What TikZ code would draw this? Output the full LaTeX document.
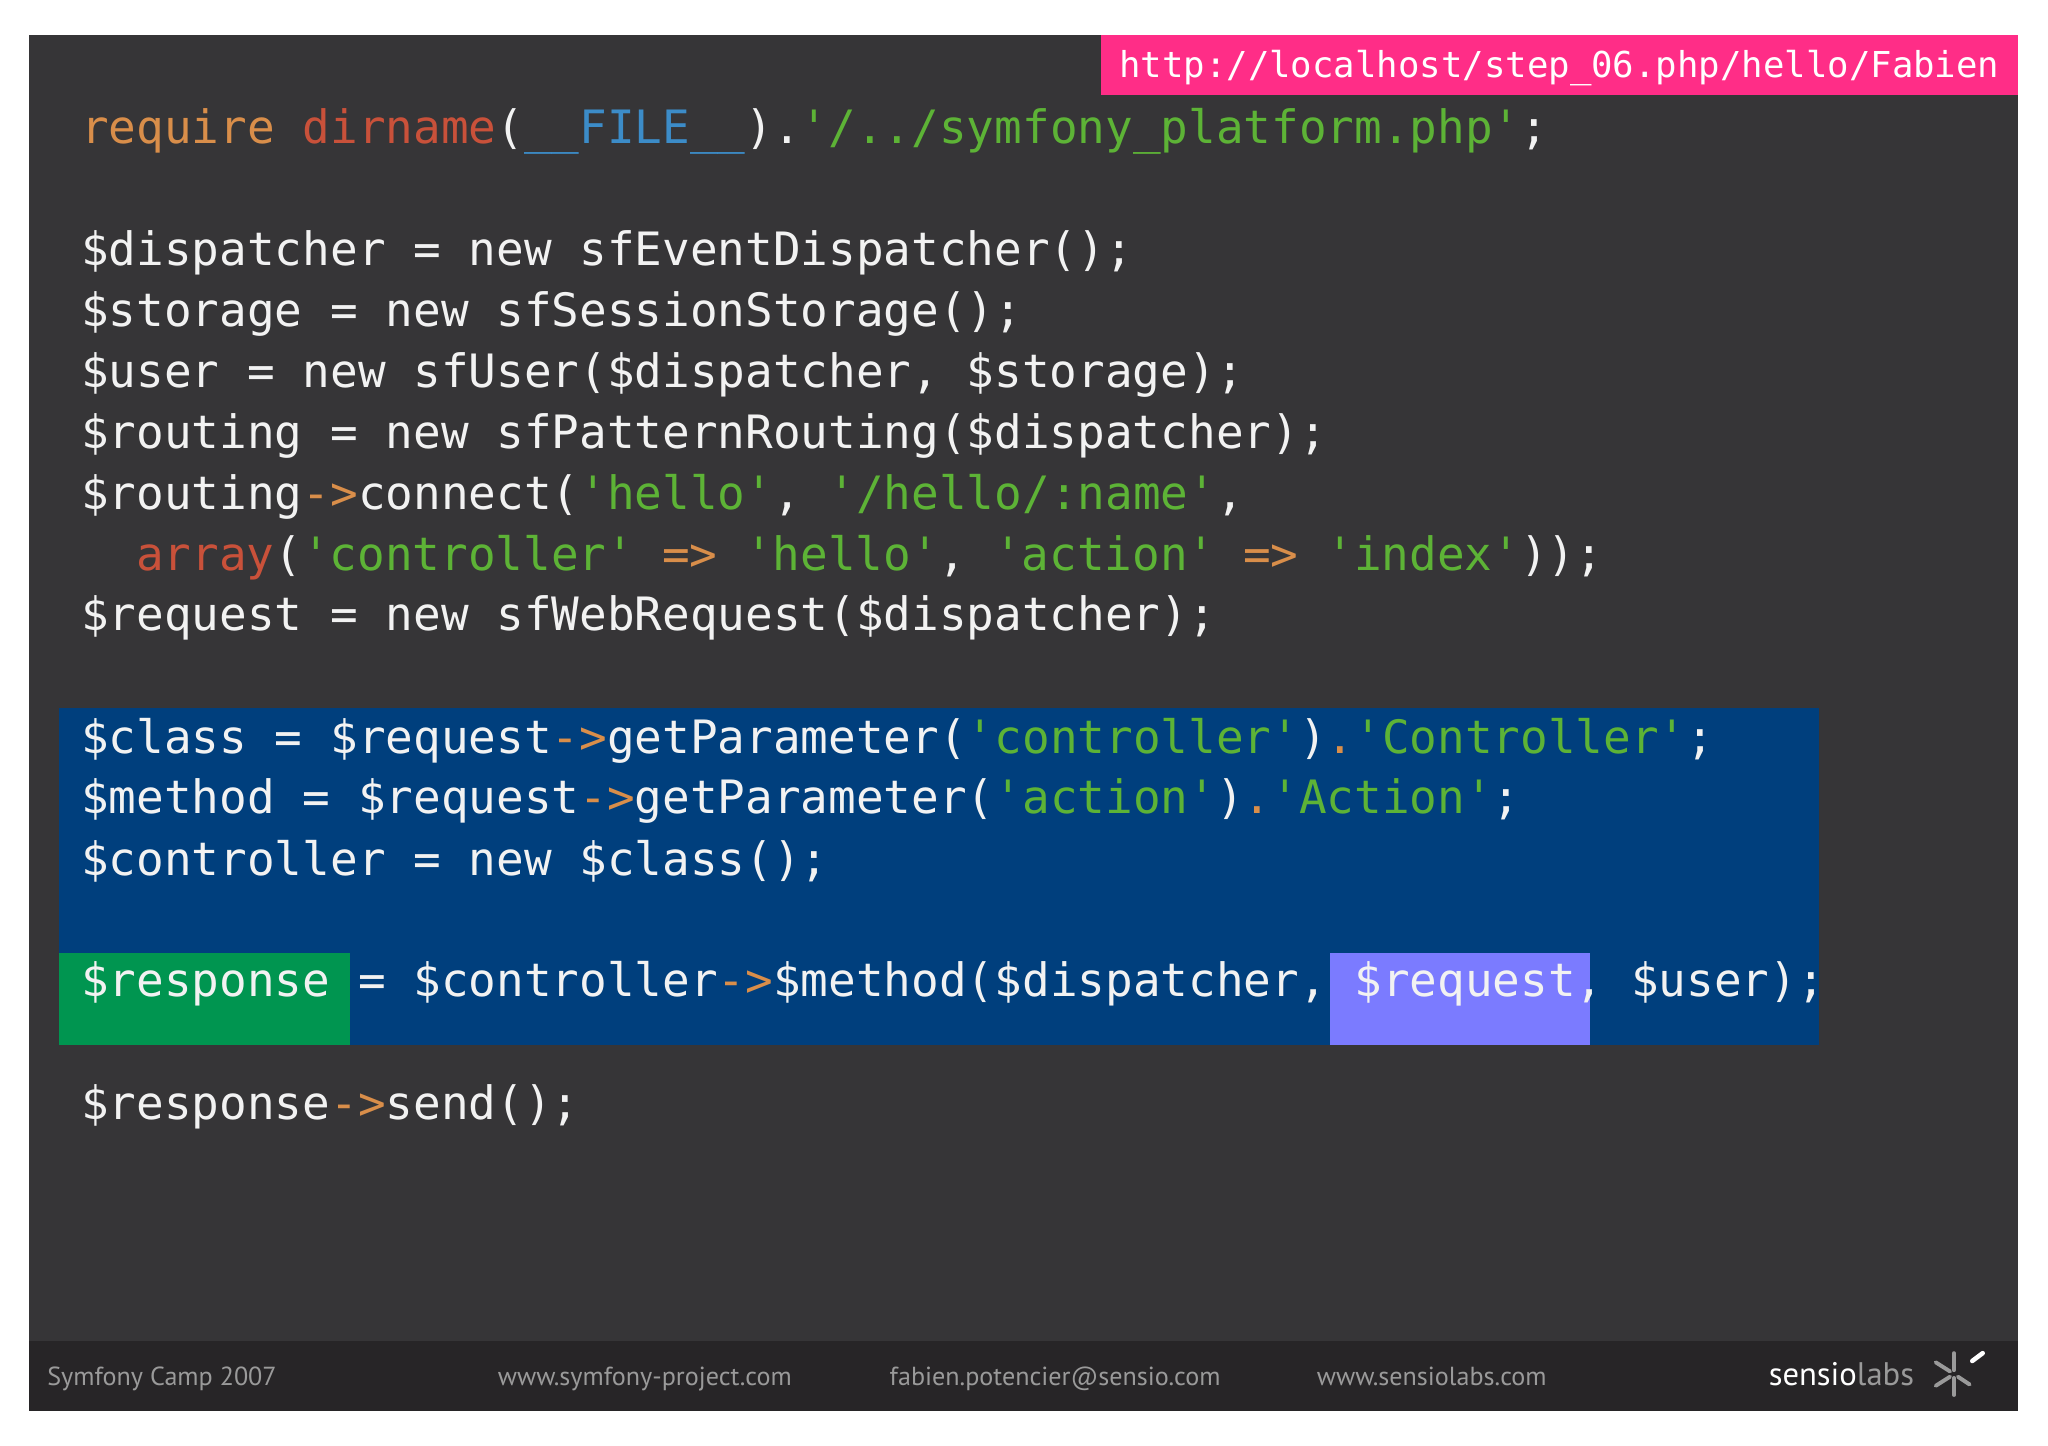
\documentclass[tikz,border=0pt]{standalone}
\usepackage{fontspec}
\newfontfamily\codefont{DejaVu Sans Mono}
\newfontfamily\footfont{PT Sans}
\definecolor{slide}{HTML}{363537}
\definecolor{footbg}{HTML}{272527}
\definecolor{pinkc}{HTML}{FF2D87}
\definecolor{hlblue}{HTML}{003F7D}
\definecolor{hlgreen}{HTML}{009550}
\definecolor{hlpurple}{HTML}{7B7BFF}
\definecolor{cw}{HTML}{F2F2F2}
\definecolor{co}{HTML}{D98E4A}
\definecolor{cr}{HTML}{C9513A}
\definecolor{cb}{HTML}{3C8CC8}
\definecolor{cg}{HTML}{5DB336}
\definecolor{fg}{HTML}{9A9A9A}
\newcommand\Ko[1]{\textcolor{co}{#1}}
\newcommand\Kr[1]{\textcolor{cr}{#1}}
\newcommand\Kb[1]{\textcolor{cb}{#1}}
\newcommand\Kg[1]{\textcolor{cg}{#1}}
\tikzset{codeline/.style={anchor=base west,inner sep=0pt,text=cw,font=\codefont\fontsize{35.2}{35}\selectfont},
footer/.style={anchor=base west,inner sep=0pt,text=fg,font=\footfont\fontsize{20}{20}\selectfont}}
\begin{document}
\begin{tikzpicture}[x=1pt,y=-1pt]
\useasboundingbox (0,0) rectangle (1568,1107);
\fill[white] (0,0) rectangle (1568,1107);
\fill[slide] (22,27) rectangle (1545,1080);
\fill[footbg] (22,1027) rectangle (1545,1080);
\fill[pinkc] (843,27) rectangle (1545,73);
\node[anchor=base east,inner sep=0pt,text=white,font=\codefont\fontsize{27.3}{27}\selectfont] (url) at (1531,59) {http://localhost/step\_06.php/hello/Fabien};
\fill[hlblue] (45,542) rectangle (1393,800);
\fill[hlgreen] (45,730) rectangle (268,800);
\fill[hlpurple] (1018,730) rectangle (1217,800);
\node[codeline] (l1) at (62,110) {\Ko{require} \Kr{dirname}(\Kb{\_\_FILE\_\_}).\Kg{'/../symfony\_platform.php'};};
\node[codeline] (l2) at (62,203) {\$dispatcher = new sfEventDispatcher();};
\node[codeline] (l3) at (62,250) {\$storage = new sfSessionStorage();};
\node[codeline] (l4) at (62,297) {\$user = new sfUser(\$dispatcher, \$storage);};
\node[codeline] (l5) at (62,343) {\$routing = new sfPatternRouting(\$dispatcher);};
\node[codeline] (l6) at (62,390) {\$routing\Ko{->}connect(\Kg{'hello'}, \Kg{'/hello/:name'},};
\node[codeline] (l7) at (104,437) {\Kr{array}(\Kg{'controller'} \Ko{=>} \Kg{'hello'}, \Kg{'action'} \Ko{=>} \Kg{'index'}));};
\node[codeline] (l8) at (62,483) {\$request = new sfWebRequest(\$dispatcher);};
\node[codeline] (l9) at (62,577) {\$class = \$request\Ko{->}getParameter(\Kg{'controller'})\Ko{.}\Kg{'Controller'};};
\node[codeline] (l10) at (62,623) {\$method = \$request\Ko{->}getParameter(\Kg{'action'})\Ko{.}\Kg{'Action'};};
\node[codeline] (l11) at (62,670) {\$controller = new \$class();};
\node[codeline] (l12) at (62,763) {\$response = \$controller\Ko{->}\$method(\$dispatcher, \$request, \$user);};
\node[codeline] (l13) at (62,857) {\$response\Ko{->}send();};
\node[footer] (f1) at (36,1061) {Symfony Camp 2007};
\node[footer] (f2) at (381,1061) {www.symfony-project.com};
\node[footer] (f3) at (681,1061) {fabien.potencier@sensio.com};
\node[footer] (f4) at (1008,1061) {www.sensiolabs.com};
\node[anchor=base west,inner sep=0pt,font=\footfont\fontsize{25}{25}\selectfont] (logo) at (1354,1061) {\textcolor{white}{sensio}\textcolor{fg}{labs}};
\begin{scope}[shift={(1496,1052)},draw=fg,line width=3pt,line cap=round]
\draw (0,-3) -- (0,-16); \draw (0,3) -- (0,16);
\draw (-3,-2) -- (-14,-9); \draw (-3,2) -- (-14,9);
\draw (3,2) -- (12,8);
\draw[white,line width=3.5pt] (14,-10) -- (22,-16);
\end{scope}
\end{tikzpicture}
\end{document}
